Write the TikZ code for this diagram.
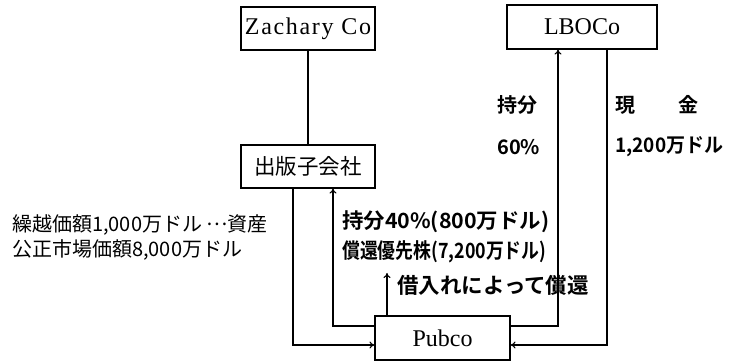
\documentclass[tikz,border=0pt]{standalone}
\usepackage{fontspec}
\usepackage{graphicx}
\usetikzlibrary{arrows.meta}
\newfontfamily\cjk{Noto Sans CJK JP}
\newfontfamily\cjkb{Noto Sans CJK JP Bold}
\newfontfamily\boxfont{Liberation Serif}
\newfontfamily\boxfontsp[LetterSpace=7]{Liberation Serif}
\begin{document}
\begin{tikzpicture}[x=1pt,y=-1pt,
  box/.style={draw,line width=1.1pt,inner sep=0pt,font=\boxfont\fontsize{24}{28}\selectfont},
  conn/.style={line width=1.1pt},
  arr/.style={line width=1.1pt,-{To[length=5pt,width=7pt]}},
  lbl/.style={anchor=west,inner sep=0pt},
  reg/.style={lbl,font=\cjk\fontsize{20}{24}\selectfont},
  bld/.style={lbl,font=\cjkb\fontsize{20}{24}\selectfont}]
\useasboundingbox (0,0) rectangle (734,363);
\node[box,minimum width=134pt,minimum height=43pt] (zach) at (308,28.5) {\boxfontsp Zachary Co};
\node[box,minimum width=134pt,minimum height=43pt] (sub) at (308,166.5) {\cjk\fontsize{21.5}{24}\selectfont 出版子会社};
\node[box,minimum width=150pt,minimum height=44pt] (lbo) at (582,27) {LBOCo};
\node[box,minimum width=135pt,minimum height=44pt] (pub) at (442.5,338) {Pubco};
\coordinate (xa) at (293,345);
\coordinate (xb) at (333,326);
\coordinate (xc) at (558,326);
\coordinate (xd) at (607,345);
\coordinate (xe) at (387,273);
\draw[conn] (zach) -- (sub);
\draw[arr] (sub.south -| xa) -- (xa) -- (pub.west |- xa);
\draw[arr] (pub.west |- xb) -- (xb) -- (sub.south -| xb);
\draw[arr] (pub.east |- xc) -- (xc) -- (lbo.south -| xc);
\draw[arr] (lbo.south -| xd) -- (xd) -- (pub.east |- xd);
\draw[arr] (pub.north -| xe) -- (xe);
\node[bld] (t1) at (497,105) {持分};
\node[bld] (t2) at (497,147) {60\%};
\node[bld] (t3) at (615,105) {現\hspace{43pt}金};
\node[bld] (t4) at (615,147) {\scalebox{0.95}[1]{1,200万ドル}};
\node[reg] (t5) at (12,225) {繰越価額1,000万ドル \raisebox{0.3em}{…}資産};
\node[reg] (t6) at (12,250) {公正市場価額8,000万ドル};
\node[bld,font=\cjkb\fontsize{21}{24}\selectfont] (t7) at (342,222) {\scalebox{1.02}[1]{持分40\%(800万ドル)}};
\node[bld,font=\cjkb\fontsize{21}{24}\selectfont] (t8) at (342,252) {\scalebox{0.85}[1]{償還優先株(7,200万ドル)}};
\node[bld,font=\cjkb\fontsize{21.5}{24}\selectfont] (t9) at (397,285) {借入れによって償還};
\end{tikzpicture}
\end{document}
